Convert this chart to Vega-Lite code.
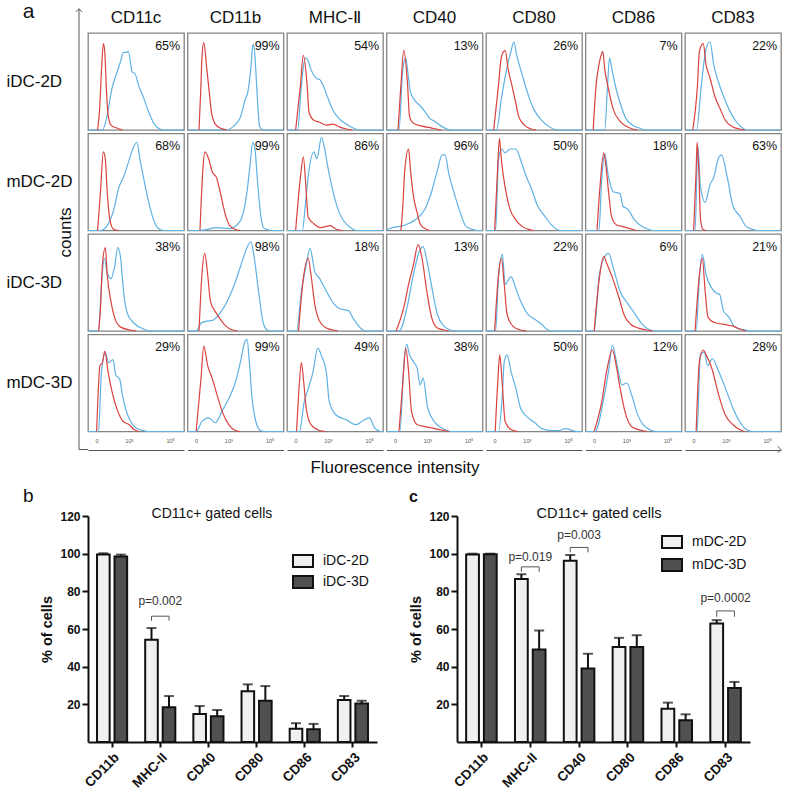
{
"$schema":"https://vega.github.io/schema/vega-lite/v6.json",
"padding":{"left":5,"top":0,"right":0,"bottom":0},
"config":{"font":"Liberation Sans","view":{"stroke":"#858585","strokeWidth":1.3},"axis":{"labelFont":"Liberation Sans","titleFont":"Liberation Sans"},"legend":{"labelFont":"Liberation Sans"},"title":{"font":"Liberation Sans"}},
"datasets":{
"h":[
{"r":1,"c":1,"s":"a","x":0,"y":0},{"r":1,"c":1,"s":"a","x":15,"y":0},{"r":1,"c":1,"s":"a","x":20,"y":15},{"r":1,"c":1,"s":"a","x":25,"y":43},{"r":1,"c":1,"s":"a","x":30,"y":59},{"r":1,"c":1,"s":"a","x":34,"y":71},{"r":1,"c":1,"s":"a","x":37,"y":80},{"r":1,"c":1,"s":"a","x":40,"y":80},{"r":1,"c":1,"s":"a","x":42,"y":81},{"r":1,"c":1,"s":"a","x":46,"y":60},{"r":1,"c":1,"s":"a","x":49,"y":58},{"r":1,"c":1,"s":"a","x":53,"y":45},{"r":1,"c":1,"s":"a","x":58,"y":33},{"r":1,"c":1,"s":"a","x":63,"y":19},{"r":1,"c":1,"s":"a","x":68,"y":8},{"r":1,"c":1,"s":"a","x":73,"y":2},{"r":1,"c":1,"s":"a","x":78,"y":0},{"r":1,"c":1,"s":"a","x":100,"y":0},
{"r":1,"c":1,"s":"i","x":10,"y":0},{"r":1,"c":1,"s":"i","x":12,"y":20},{"r":1,"c":1,"s":"i","x":14,"y":60},{"r":1,"c":1,"s":"i","x":16,"y":89},{"r":1,"c":1,"s":"i","x":17.5,"y":80},{"r":1,"c":1,"s":"i","x":19,"y":45},{"r":1,"c":1,"s":"i","x":21,"y":15},{"r":1,"c":1,"s":"i","x":24,"y":5},{"r":1,"c":1,"s":"i","x":30,"y":2},{"r":1,"c":1,"s":"i","x":36,"y":0},
{"r":1,"c":2,"s":"a","x":0,"y":0},{"r":1,"c":2,"s":"a","x":41,"y":0},{"r":1,"c":2,"s":"a","x":48,"y":4},{"r":1,"c":2,"s":"a","x":55,"y":13},{"r":1,"c":2,"s":"a","x":60,"y":31},{"r":1,"c":2,"s":"a","x":63,"y":40},{"r":1,"c":2,"s":"a","x":66,"y":64},{"r":1,"c":2,"s":"a","x":68,"y":87},{"r":1,"c":2,"s":"a","x":69,"y":88},{"r":1,"c":2,"s":"a","x":71,"y":64},{"r":1,"c":2,"s":"a","x":73,"y":29},{"r":1,"c":2,"s":"a","x":75,"y":4},{"r":1,"c":2,"s":"a","x":77,"y":1},{"r":1,"c":2,"s":"a","x":80,"y":0},{"r":1,"c":2,"s":"a","x":100,"y":0},
{"r":1,"c":2,"s":"i","x":12,"y":0},{"r":1,"c":2,"s":"i","x":14,"y":46},{"r":1,"c":2,"s":"i","x":15,"y":74},{"r":1,"c":2,"s":"i","x":17,"y":90},{"r":1,"c":2,"s":"i","x":20,"y":64},{"r":1,"c":2,"s":"i","x":23,"y":36},{"r":1,"c":2,"s":"i","x":25,"y":18},{"r":1,"c":2,"s":"i","x":29,"y":6},{"r":1,"c":2,"s":"i","x":34,"y":2},{"r":1,"c":2,"s":"i","x":41,"y":0},
{"r":1,"c":3,"s":"a","x":0,"y":0},{"r":1,"c":3,"s":"a","x":11,"y":0},{"r":1,"c":3,"s":"a","x":15,"y":46},{"r":1,"c":3,"s":"a","x":19,"y":74},{"r":1,"c":3,"s":"a","x":21,"y":73},{"r":1,"c":3,"s":"a","x":26,"y":60},{"r":1,"c":3,"s":"a","x":31,"y":53},{"r":1,"c":3,"s":"a","x":34,"y":52},{"r":1,"c":3,"s":"a","x":38,"y":45},{"r":1,"c":3,"s":"a","x":43,"y":32},{"r":1,"c":3,"s":"a","x":48,"y":20},{"r":1,"c":3,"s":"a","x":55,"y":11},{"r":1,"c":3,"s":"a","x":62,"y":6},{"r":1,"c":3,"s":"a","x":69,"y":2},{"r":1,"c":3,"s":"a","x":76,"y":0},{"r":1,"c":3,"s":"a","x":100,"y":0},
{"r":1,"c":3,"s":"i","x":9,"y":0},{"r":1,"c":3,"s":"i","x":14,"y":46},{"r":1,"c":3,"s":"i","x":17,"y":77},{"r":1,"c":3,"s":"i","x":21,"y":46},{"r":1,"c":3,"s":"i","x":23,"y":18},{"r":1,"c":3,"s":"i","x":28,"y":10},{"r":1,"c":3,"s":"i","x":34,"y":8},{"r":1,"c":3,"s":"i","x":41,"y":5},{"r":1,"c":3,"s":"i","x":48,"y":6},{"r":1,"c":3,"s":"i","x":55,"y":3},{"r":1,"c":3,"s":"i","x":62,"y":1},{"r":1,"c":3,"s":"i","x":68,"y":0},
{"r":1,"c":4,"s":"a","x":0,"y":0},{"r":1,"c":4,"s":"a","x":13,"y":0},{"r":1,"c":4,"s":"a","x":17,"y":63},{"r":1,"c":4,"s":"a","x":20,"y":74},{"r":1,"c":4,"s":"a","x":23,"y":53},{"r":1,"c":4,"s":"a","x":25,"y":39},{"r":1,"c":4,"s":"a","x":30,"y":30},{"r":1,"c":4,"s":"a","x":35,"y":25},{"r":1,"c":4,"s":"a","x":40,"y":19},{"r":1,"c":4,"s":"a","x":45,"y":12},{"r":1,"c":4,"s":"a","x":50,"y":9},{"r":1,"c":4,"s":"a","x":57,"y":4},{"r":1,"c":4,"s":"a","x":63,"y":1},{"r":1,"c":4,"s":"a","x":68,"y":0},{"r":1,"c":4,"s":"a","x":100,"y":0},
{"r":1,"c":4,"s":"i","x":12,"y":0},{"r":1,"c":4,"s":"i","x":15,"y":46},{"r":1,"c":4,"s":"i","x":18,"y":82},{"r":1,"c":4,"s":"i","x":22,"y":46},{"r":1,"c":4,"s":"i","x":24,"y":14},{"r":1,"c":4,"s":"i","x":28,"y":7},{"r":1,"c":4,"s":"i","x":37,"y":4},{"r":1,"c":4,"s":"i","x":47,"y":2},{"r":1,"c":4,"s":"i","x":57,"y":0},
{"r":1,"c":5,"s":"a","x":0,"y":0},{"r":1,"c":5,"s":"a","x":11,"y":0},{"r":1,"c":5,"s":"a","x":16,"y":32},{"r":1,"c":5,"s":"a","x":22,"y":65},{"r":1,"c":5,"s":"a","x":26,"y":81},{"r":1,"c":5,"s":"a","x":29,"y":91},{"r":1,"c":5,"s":"a","x":32,"y":77},{"r":1,"c":5,"s":"a","x":38,"y":56},{"r":1,"c":5,"s":"a","x":43,"y":39},{"r":1,"c":5,"s":"a","x":50,"y":21},{"r":1,"c":5,"s":"a","x":58,"y":10},{"r":1,"c":5,"s":"a","x":65,"y":4},{"r":1,"c":5,"s":"a","x":70,"y":1},{"r":1,"c":5,"s":"a","x":74,"y":0},{"r":1,"c":5,"s":"a","x":100,"y":0},
{"r":1,"c":5,"s":"i","x":8,"y":0},{"r":1,"c":5,"s":"i","x":13,"y":46},{"r":1,"c":5,"s":"i","x":16,"y":75},{"r":1,"c":5,"s":"i","x":20,"y":82},{"r":1,"c":5,"s":"i","x":23,"y":63},{"r":1,"c":5,"s":"i","x":27,"y":46},{"r":1,"c":5,"s":"i","x":31,"y":28},{"r":1,"c":5,"s":"i","x":34,"y":14},{"r":1,"c":5,"s":"i","x":40,"y":5},{"r":1,"c":5,"s":"i","x":47,"y":1},{"r":1,"c":5,"s":"i","x":52,"y":0},
{"r":1,"c":6,"s":"a","x":0,"y":0},{"r":1,"c":6,"s":"a","x":20,"y":0},{"r":1,"c":6,"s":"a","x":23,"y":46},{"r":1,"c":6,"s":"a","x":25,"y":74},{"r":1,"c":6,"s":"a","x":28,"y":60},{"r":1,"c":6,"s":"a","x":32,"y":42},{"r":1,"c":6,"s":"a","x":37,"y":25},{"r":1,"c":6,"s":"a","x":42,"y":12},{"r":1,"c":6,"s":"a","x":49,"y":5},{"r":1,"c":6,"s":"a","x":56,"y":2},{"r":1,"c":6,"s":"a","x":62,"y":0},{"r":1,"c":6,"s":"a","x":100,"y":0},
{"r":1,"c":6,"s":"i","x":8,"y":0},{"r":1,"c":6,"s":"i","x":11,"y":46},{"r":1,"c":6,"s":"i","x":14,"y":67},{"r":1,"c":6,"s":"i","x":15,"y":72},{"r":1,"c":6,"s":"i","x":18,"y":81},{"r":1,"c":6,"s":"i","x":20,"y":63},{"r":1,"c":6,"s":"i","x":24,"y":42},{"r":1,"c":6,"s":"i","x":29,"y":21},{"r":1,"c":6,"s":"i","x":36,"y":9},{"r":1,"c":6,"s":"i","x":42,"y":4},{"r":1,"c":6,"s":"i","x":49,"y":1},{"r":1,"c":6,"s":"i","x":54,"y":0},
{"r":1,"c":7,"s":"a","x":0,"y":0},{"r":1,"c":7,"s":"a","x":12,"y":0},{"r":1,"c":7,"s":"a","x":17,"y":46},{"r":1,"c":7,"s":"a","x":22,"y":84},{"r":1,"c":7,"s":"a","x":26,"y":91},{"r":1,"c":7,"s":"a","x":30,"y":67},{"r":1,"c":7,"s":"a","x":35,"y":49},{"r":1,"c":7,"s":"a","x":40,"y":35},{"r":1,"c":7,"s":"a","x":46,"y":21},{"r":1,"c":7,"s":"a","x":53,"y":9},{"r":1,"c":7,"s":"a","x":60,"y":2},{"r":1,"c":7,"s":"a","x":65,"y":0},{"r":1,"c":7,"s":"a","x":100,"y":0},
{"r":1,"c":7,"s":"i","x":8,"y":0},{"r":1,"c":7,"s":"i","x":13,"y":46},{"r":1,"c":7,"s":"i","x":15,"y":81},{"r":1,"c":7,"s":"i","x":19,"y":89},{"r":1,"c":7,"s":"i","x":22,"y":67},{"r":1,"c":7,"s":"i","x":26,"y":54},{"r":1,"c":7,"s":"i","x":31,"y":35},{"r":1,"c":7,"s":"i","x":37,"y":21},{"r":1,"c":7,"s":"i","x":42,"y":10},{"r":1,"c":7,"s":"i","x":50,"y":3},{"r":1,"c":7,"s":"i","x":57,"y":1},{"r":1,"c":7,"s":"i","x":62,"y":0},
{"r":2,"c":1,"s":"a","x":0,"y":0},{"r":2,"c":1,"s":"a","x":13,"y":0},{"r":2,"c":1,"s":"a","x":20,"y":5},{"r":2,"c":1,"s":"a","x":27,"y":22},{"r":2,"c":1,"s":"a","x":32,"y":44},{"r":2,"c":1,"s":"a","x":37,"y":55},{"r":2,"c":1,"s":"a","x":42,"y":70},{"r":2,"c":1,"s":"a","x":47,"y":85},{"r":2,"c":1,"s":"a","x":51,"y":91},{"r":2,"c":1,"s":"a","x":54,"y":74},{"r":2,"c":1,"s":"a","x":60,"y":44},{"r":2,"c":1,"s":"a","x":65,"y":22},{"r":2,"c":1,"s":"a","x":70,"y":7},{"r":2,"c":1,"s":"a","x":75,"y":1},{"r":2,"c":1,"s":"a","x":80,"y":0},{"r":2,"c":1,"s":"a","x":100,"y":0},
{"r":2,"c":1,"s":"i","x":10,"y":0},{"r":2,"c":1,"s":"i","x":13,"y":40},{"r":2,"c":1,"s":"i","x":16,"y":81},{"r":2,"c":1,"s":"i","x":18,"y":74},{"r":2,"c":1,"s":"i","x":20,"y":40},{"r":2,"c":1,"s":"i","x":23,"y":10},{"r":2,"c":1,"s":"i","x":27,"y":1},{"r":2,"c":1,"s":"i","x":32,"y":0},
{"r":2,"c":2,"s":"a","x":0,"y":0},{"r":2,"c":2,"s":"a","x":12,"y":0},{"r":2,"c":2,"s":"a","x":20,"y":1},{"r":2,"c":2,"s":"a","x":30,"y":3},{"r":2,"c":2,"s":"a","x":44,"y":2},{"r":2,"c":2,"s":"a","x":55,"y":10},{"r":2,"c":2,"s":"a","x":62,"y":40},{"r":2,"c":2,"s":"a","x":65,"y":66},{"r":2,"c":2,"s":"a","x":68,"y":91},{"r":2,"c":2,"s":"a","x":70,"y":86},{"r":2,"c":2,"s":"a","x":73,"y":50},{"r":2,"c":2,"s":"a","x":76,"y":18},{"r":2,"c":2,"s":"a","x":79,"y":3},{"r":2,"c":2,"s":"a","x":83,"y":1},{"r":2,"c":2,"s":"a","x":87,"y":0},{"r":2,"c":2,"s":"a","x":100,"y":0},
{"r":2,"c":2,"s":"i","x":13,"y":0},{"r":2,"c":2,"s":"i","x":16,"y":63},{"r":2,"c":2,"s":"i","x":18,"y":81},{"r":2,"c":2,"s":"i","x":22,"y":74},{"r":2,"c":2,"s":"i","x":26,"y":60},{"r":2,"c":2,"s":"i","x":30,"y":55},{"r":2,"c":2,"s":"i","x":34,"y":40},{"r":2,"c":2,"s":"i","x":39,"y":18},{"r":2,"c":2,"s":"i","x":44,"y":5},{"r":2,"c":2,"s":"i","x":50,"y":1},{"r":2,"c":2,"s":"i","x":55,"y":0},
{"r":2,"c":3,"s":"a","x":0,"y":0},{"r":2,"c":3,"s":"a","x":16,"y":0},{"r":2,"c":3,"s":"a","x":19,"y":25},{"r":2,"c":3,"s":"a","x":22,"y":55},{"r":2,"c":3,"s":"a","x":28,"y":81},{"r":2,"c":3,"s":"a","x":31,"y":74},{"r":2,"c":3,"s":"a","x":36,"y":96},{"r":2,"c":3,"s":"a","x":39,"y":85},{"r":2,"c":3,"s":"a","x":43,"y":63},{"r":2,"c":3,"s":"a","x":48,"y":40},{"r":2,"c":3,"s":"a","x":53,"y":22},{"r":2,"c":3,"s":"a","x":59,"y":10},{"r":2,"c":3,"s":"a","x":66,"y":3},{"r":2,"c":3,"s":"a","x":72,"y":0},{"r":2,"c":3,"s":"a","x":100,"y":0},
{"r":2,"c":3,"s":"i","x":9,"y":0},{"r":2,"c":3,"s":"i","x":14,"y":55},{"r":2,"c":3,"s":"i","x":17,"y":76},{"r":2,"c":3,"s":"i","x":20,"y":40},{"r":2,"c":3,"s":"i","x":22,"y":14},{"r":2,"c":3,"s":"i","x":28,"y":7},{"r":2,"c":3,"s":"i","x":35,"y":3},{"r":2,"c":3,"s":"i","x":45,"y":5},{"r":2,"c":3,"s":"i","x":52,"y":1},{"r":2,"c":3,"s":"i","x":58,"y":0},
{"r":2,"c":4,"s":"a","x":0,"y":0},{"r":2,"c":4,"s":"a","x":3,"y":2},{"r":2,"c":4,"s":"a","x":17,"y":5},{"r":2,"c":4,"s":"a","x":30,"y":11},{"r":2,"c":4,"s":"a","x":40,"y":22},{"r":2,"c":4,"s":"a","x":47,"y":40},{"r":2,"c":4,"s":"a","x":53,"y":62},{"r":2,"c":4,"s":"a","x":58,"y":78},{"r":2,"c":4,"s":"a","x":61,"y":78},{"r":2,"c":4,"s":"a","x":65,"y":58},{"r":2,"c":4,"s":"a","x":70,"y":40},{"r":2,"c":4,"s":"a","x":77,"y":18},{"r":2,"c":4,"s":"a","x":83,"y":4},{"r":2,"c":4,"s":"a","x":90,"y":1},{"r":2,"c":4,"s":"a","x":95,"y":0},{"r":2,"c":4,"s":"a","x":100,"y":0},
{"r":2,"c":4,"s":"i","x":15,"y":0},{"r":2,"c":4,"s":"i","x":17,"y":25},{"r":2,"c":4,"s":"i","x":19,"y":62},{"r":2,"c":4,"s":"i","x":23,"y":84},{"r":2,"c":4,"s":"i","x":25,"y":62},{"r":2,"c":4,"s":"i","x":28,"y":36},{"r":2,"c":4,"s":"i","x":32,"y":18},{"r":2,"c":4,"s":"i","x":35,"y":7},{"r":2,"c":4,"s":"i","x":40,"y":2},{"r":2,"c":4,"s":"i","x":45,"y":0},
{"r":2,"c":5,"s":"a","x":0,"y":0},{"r":2,"c":5,"s":"a","x":10,"y":0},{"r":2,"c":5,"s":"a","x":13,"y":73},{"r":2,"c":5,"s":"a","x":16,"y":84},{"r":2,"c":5,"s":"a","x":20,"y":80},{"r":2,"c":5,"s":"a","x":25,"y":84},{"r":2,"c":5,"s":"a","x":31,"y":84},{"r":2,"c":5,"s":"a","x":36,"y":73},{"r":2,"c":5,"s":"a","x":41,"y":58},{"r":2,"c":5,"s":"a","x":47,"y":44},{"r":2,"c":5,"s":"a","x":54,"y":25},{"r":2,"c":5,"s":"a","x":61,"y":15},{"r":2,"c":5,"s":"a","x":68,"y":6},{"r":2,"c":5,"s":"a","x":74,"y":1},{"r":2,"c":5,"s":"a","x":78,"y":0},{"r":2,"c":5,"s":"a","x":100,"y":0},
{"r":2,"c":5,"s":"i","x":9,"y":0},{"r":2,"c":5,"s":"i","x":12,"y":62},{"r":2,"c":5,"s":"i","x":14,"y":95},{"r":2,"c":5,"s":"i","x":16,"y":73},{"r":2,"c":5,"s":"i","x":20,"y":44},{"r":2,"c":5,"s":"i","x":25,"y":22},{"r":2,"c":5,"s":"i","x":31,"y":11},{"r":2,"c":5,"s":"i","x":38,"y":4},{"r":2,"c":5,"s":"i","x":45,"y":1},{"r":2,"c":5,"s":"i","x":50,"y":0},
{"r":2,"c":6,"s":"a","x":0,"y":0},{"r":2,"c":6,"s":"a","x":14,"y":0},{"r":2,"c":6,"s":"a","x":17,"y":55},{"r":2,"c":6,"s":"a","x":20,"y":79},{"r":2,"c":6,"s":"a","x":24,"y":55},{"r":2,"c":6,"s":"a","x":29,"y":40},{"r":2,"c":6,"s":"a","x":36,"y":38},{"r":2,"c":6,"s":"a","x":39,"y":25},{"r":2,"c":6,"s":"a","x":44,"y":22},{"r":2,"c":6,"s":"a","x":51,"y":11},{"r":2,"c":6,"s":"a","x":59,"y":4},{"r":2,"c":6,"s":"a","x":66,"y":1},{"r":2,"c":6,"s":"a","x":70,"y":0},{"r":2,"c":6,"s":"a","x":100,"y":0},
{"r":2,"c":6,"s":"i","x":12,"y":0},{"r":2,"c":6,"s":"i","x":15,"y":44},{"r":2,"c":6,"s":"i","x":19,"y":80},{"r":2,"c":6,"s":"i","x":21,"y":69},{"r":2,"c":6,"s":"i","x":24,"y":40},{"r":2,"c":6,"s":"i","x":27,"y":15},{"r":2,"c":6,"s":"i","x":32,"y":6},{"r":2,"c":6,"s":"i","x":39,"y":4},{"r":2,"c":6,"s":"i","x":46,"y":2},{"r":2,"c":6,"s":"i","x":53,"y":0},
{"r":2,"c":7,"s":"a","x":0,"y":0},{"r":2,"c":7,"s":"a","x":10.5,"y":0},{"r":2,"c":7,"s":"a","x":13.4,"y":87},{"r":2,"c":7,"s":"a","x":16,"y":47},{"r":2,"c":7,"s":"a","x":21,"y":29},{"r":2,"c":7,"s":"a","x":26,"y":47},{"r":2,"c":7,"s":"a","x":30,"y":55},{"r":2,"c":7,"s":"a","x":35,"y":75},{"r":2,"c":7,"s":"a","x":38,"y":78},{"r":2,"c":7,"s":"a","x":44,"y":55},{"r":2,"c":7,"s":"a","x":50,"y":25},{"r":2,"c":7,"s":"a","x":57,"y":15},{"r":2,"c":7,"s":"a","x":64,"y":4},{"r":2,"c":7,"s":"a","x":71,"y":1},{"r":2,"c":7,"s":"a","x":75,"y":0},{"r":2,"c":7,"s":"a","x":100,"y":0},
{"r":2,"c":7,"s":"i","x":9,"y":0},{"r":2,"c":7,"s":"i","x":11.6,"y":62},{"r":2,"c":7,"s":"i","x":12.6,"y":91},{"r":2,"c":7,"s":"i","x":14.4,"y":62},{"r":2,"c":7,"s":"i","x":16.2,"y":11},{"r":2,"c":7,"s":"i","x":18.8,"y":1},{"r":2,"c":7,"s":"i","x":22,"y":0},
{"r":3,"c":1,"s":"a","x":0,"y":0},{"r":3,"c":1,"s":"a","x":11,"y":0},{"r":3,"c":1,"s":"a","x":14,"y":48},{"r":3,"c":1,"s":"a","x":17,"y":75},{"r":3,"c":1,"s":"a","x":20,"y":60},{"r":3,"c":1,"s":"a","x":24,"y":54},{"r":3,"c":1,"s":"a","x":28,"y":68},{"r":3,"c":1,"s":"a","x":31,"y":86},{"r":3,"c":1,"s":"a","x":34,"y":75},{"r":3,"c":1,"s":"a","x":37,"y":41},{"r":3,"c":1,"s":"a","x":41,"y":18},{"r":3,"c":1,"s":"a","x":48,"y":8},{"r":3,"c":1,"s":"a","x":58,"y":2},{"r":3,"c":1,"s":"a","x":65,"y":0},{"r":3,"c":1,"s":"a","x":100,"y":0},
{"r":3,"c":1,"s":"i","x":11,"y":0},{"r":3,"c":1,"s":"i","x":13,"y":23},{"r":3,"c":1,"s":"i","x":15,"y":68},{"r":3,"c":1,"s":"i","x":18,"y":86},{"r":3,"c":1,"s":"i","x":20,"y":58},{"r":3,"c":1,"s":"i","x":24,"y":30},{"r":3,"c":1,"s":"i","x":28,"y":13},{"r":3,"c":1,"s":"i","x":34,"y":4},{"r":3,"c":1,"s":"i","x":44,"y":1},{"r":3,"c":1,"s":"i","x":50,"y":0},
{"r":3,"c":2,"s":"a","x":0,"y":0},{"r":3,"c":2,"s":"a","x":9,"y":0},{"r":3,"c":2,"s":"a","x":14,"y":8},{"r":3,"c":2,"s":"a","x":19,"y":10},{"r":3,"c":2,"s":"a","x":26,"y":11},{"r":3,"c":2,"s":"a","x":35,"y":20},{"r":3,"c":2,"s":"a","x":43,"y":34},{"r":3,"c":2,"s":"a","x":50,"y":51},{"r":3,"c":2,"s":"a","x":57,"y":72},{"r":3,"c":2,"s":"a","x":62,"y":86},{"r":3,"c":2,"s":"a","x":66,"y":92},{"r":3,"c":2,"s":"a","x":69,"y":79},{"r":3,"c":2,"s":"a","x":74,"y":41},{"r":3,"c":2,"s":"a","x":79,"y":8},{"r":3,"c":2,"s":"a","x":83,"y":1},{"r":3,"c":2,"s":"a","x":86,"y":0},{"r":3,"c":2,"s":"a","x":100,"y":0},
{"r":3,"c":2,"s":"i","x":12,"y":0},{"r":3,"c":2,"s":"i","x":15,"y":58},{"r":3,"c":2,"s":"i","x":18,"y":80},{"r":3,"c":2,"s":"i","x":21,"y":58},{"r":3,"c":2,"s":"i","x":24,"y":30},{"r":3,"c":2,"s":"i","x":29,"y":20},{"r":3,"c":2,"s":"i","x":35,"y":11},{"r":3,"c":2,"s":"i","x":40,"y":5},{"r":3,"c":2,"s":"i","x":47,"y":1},{"r":3,"c":2,"s":"i","x":52,"y":0},
{"r":3,"c":3,"s":"a","x":0,"y":0},{"r":3,"c":3,"s":"a","x":10,"y":0},{"r":3,"c":3,"s":"a","x":15,"y":41},{"r":3,"c":3,"s":"a","x":20,"y":68},{"r":3,"c":3,"s":"a","x":24,"y":85},{"r":3,"c":3,"s":"a","x":29,"y":61},{"r":3,"c":3,"s":"a","x":34,"y":54},{"r":3,"c":3,"s":"a","x":41,"y":41},{"r":3,"c":3,"s":"a","x":48,"y":29},{"r":3,"c":3,"s":"a","x":55,"y":23},{"r":3,"c":3,"s":"a","x":64,"y":21},{"r":3,"c":3,"s":"a","x":69,"y":13},{"r":3,"c":3,"s":"a","x":74,"y":6},{"r":3,"c":3,"s":"a","x":79,"y":1},{"r":3,"c":3,"s":"a","x":83,"y":0},{"r":3,"c":3,"s":"a","x":100,"y":0},
{"r":3,"c":3,"s":"i","x":12,"y":0},{"r":3,"c":3,"s":"i","x":17,"y":54},{"r":3,"c":3,"s":"i","x":22,"y":75},{"r":3,"c":3,"s":"i","x":25,"y":58},{"r":3,"c":3,"s":"i","x":29,"y":27},{"r":3,"c":3,"s":"i","x":34,"y":10},{"r":3,"c":3,"s":"i","x":41,"y":3},{"r":3,"c":3,"s":"i","x":48,"y":1},{"r":3,"c":3,"s":"i","x":53,"y":0},
{"r":3,"c":4,"s":"a","x":0,"y":0},{"r":3,"c":4,"s":"a","x":13,"y":0},{"r":3,"c":4,"s":"a","x":22,"y":27},{"r":3,"c":4,"s":"a","x":28,"y":58},{"r":3,"c":4,"s":"a","x":35,"y":84},{"r":3,"c":4,"s":"a","x":38,"y":87},{"r":3,"c":4,"s":"a","x":43,"y":68},{"r":3,"c":4,"s":"a","x":48,"y":41},{"r":3,"c":4,"s":"a","x":53,"y":17},{"r":3,"c":4,"s":"a","x":60,"y":5},{"r":3,"c":4,"s":"a","x":67,"y":1},{"r":3,"c":4,"s":"a","x":72,"y":0},{"r":3,"c":4,"s":"a","x":100,"y":0},
{"r":3,"c":4,"s":"i","x":10,"y":0},{"r":3,"c":4,"s":"i","x":18,"y":24},{"r":3,"c":4,"s":"i","x":23,"y":48},{"r":3,"c":4,"s":"i","x":28,"y":68},{"r":3,"c":4,"s":"i","x":33,"y":89},{"r":3,"c":4,"s":"i","x":37,"y":75},{"r":3,"c":4,"s":"i","x":42,"y":41},{"r":3,"c":4,"s":"i","x":47,"y":14},{"r":3,"c":4,"s":"i","x":53,"y":3},{"r":3,"c":4,"s":"i","x":60,"y":1},{"r":3,"c":4,"s":"i","x":65,"y":0},
{"r":3,"c":5,"s":"a","x":0,"y":0},{"r":3,"c":5,"s":"a","x":10,"y":0},{"r":3,"c":5,"s":"a","x":13,"y":55},{"r":3,"c":5,"s":"a","x":17,"y":79},{"r":3,"c":5,"s":"a","x":20,"y":48},{"r":3,"c":5,"s":"a","x":26,"y":56},{"r":3,"c":5,"s":"a","x":31,"y":44},{"r":3,"c":5,"s":"a","x":36,"y":31},{"r":3,"c":5,"s":"a","x":44,"y":17},{"r":3,"c":5,"s":"a","x":51,"y":12},{"r":3,"c":5,"s":"a","x":58,"y":7},{"r":3,"c":5,"s":"a","x":63,"y":2},{"r":3,"c":5,"s":"a","x":69,"y":0},{"r":3,"c":5,"s":"a","x":100,"y":0},
{"r":3,"c":5,"s":"i","x":9,"y":0},{"r":3,"c":5,"s":"i","x":13,"y":58},{"r":3,"c":5,"s":"i","x":16,"y":75},{"r":3,"c":5,"s":"i","x":19,"y":48},{"r":3,"c":5,"s":"i","x":22,"y":17},{"r":3,"c":5,"s":"i","x":28,"y":5},{"r":3,"c":5,"s":"i","x":36,"y":1},{"r":3,"c":5,"s":"i","x":42,"y":0},
{"r":3,"c":6,"s":"a","x":0,"y":0},{"r":3,"c":6,"s":"a","x":9,"y":0},{"r":3,"c":6,"s":"a","x":14,"y":55},{"r":3,"c":6,"s":"a","x":19,"y":75},{"r":3,"c":6,"s":"a","x":24,"y":80},{"r":3,"c":6,"s":"a","x":29,"y":65},{"r":3,"c":6,"s":"a","x":36,"y":41},{"r":3,"c":6,"s":"a","x":45,"y":27},{"r":3,"c":6,"s":"a","x":52,"y":17},{"r":3,"c":6,"s":"a","x":59,"y":7},{"r":3,"c":6,"s":"a","x":67,"y":1},{"r":3,"c":6,"s":"a","x":72,"y":0},{"r":3,"c":6,"s":"a","x":100,"y":0},
{"r":3,"c":6,"s":"i","x":9,"y":0},{"r":3,"c":6,"s":"i","x":14,"y":51},{"r":3,"c":6,"s":"i","x":19,"y":77},{"r":3,"c":6,"s":"i","x":22,"y":70},{"r":3,"c":6,"s":"i","x":28,"y":55},{"r":3,"c":6,"s":"i","x":35,"y":34},{"r":3,"c":6,"s":"i","x":40,"y":17},{"r":3,"c":6,"s":"i","x":47,"y":7},{"r":3,"c":6,"s":"i","x":55,"y":3},{"r":3,"c":6,"s":"i","x":64,"y":1},{"r":3,"c":6,"s":"i","x":70,"y":0},
{"r":3,"c":7,"s":"a","x":0,"y":0},{"r":3,"c":7,"s":"a","x":11.6,"y":0},{"r":3,"c":7,"s":"a","x":15,"y":55},{"r":3,"c":7,"s":"a","x":18,"y":79},{"r":3,"c":7,"s":"a","x":22,"y":58},{"r":3,"c":7,"s":"a","x":28,"y":44},{"r":3,"c":7,"s":"a","x":33,"y":39},{"r":3,"c":7,"s":"a","x":36,"y":38},{"r":3,"c":7,"s":"a","x":40,"y":21},{"r":3,"c":7,"s":"a","x":46,"y":14},{"r":3,"c":7,"s":"a","x":51,"y":5},{"r":3,"c":7,"s":"a","x":57,"y":2},{"r":3,"c":7,"s":"a","x":64,"y":1},{"r":3,"c":7,"s":"a","x":68,"y":0},{"r":3,"c":7,"s":"a","x":100,"y":0},
{"r":3,"c":7,"s":"i","x":10.5,"y":0},{"r":3,"c":7,"s":"i","x":15,"y":58},{"r":3,"c":7,"s":"i","x":18,"y":75},{"r":3,"c":7,"s":"i","x":21,"y":41},{"r":3,"c":7,"s":"i","x":24,"y":14},{"r":3,"c":7,"s":"i","x":30,"y":9},{"r":3,"c":7,"s":"i","x":39,"y":7},{"r":3,"c":7,"s":"i","x":50,"y":5},{"r":3,"c":7,"s":"i","x":57,"y":2},{"r":3,"c":7,"s":"i","x":63,"y":0},
{"r":4,"c":1,"s":"a","x":0,"y":0},{"r":4,"c":1,"s":"a","x":11,"y":0},{"r":4,"c":1,"s":"a","x":14,"y":61},{"r":4,"c":1,"s":"a","x":18,"y":81},{"r":4,"c":1,"s":"a","x":21.5,"y":71},{"r":4,"c":1,"s":"a","x":26,"y":74},{"r":4,"c":1,"s":"a","x":29,"y":58},{"r":4,"c":1,"s":"a","x":33,"y":54},{"r":4,"c":1,"s":"a","x":36,"y":37},{"r":4,"c":1,"s":"a","x":39,"y":24},{"r":4,"c":1,"s":"a","x":44,"y":11},{"r":4,"c":1,"s":"a","x":51,"y":3},{"r":4,"c":1,"s":"a","x":58,"y":1},{"r":4,"c":1,"s":"a","x":62,"y":0},{"r":4,"c":1,"s":"a","x":100,"y":0},
{"r":4,"c":1,"s":"i","x":9,"y":0},{"r":4,"c":1,"s":"i","x":12.5,"y":68},{"r":4,"c":1,"s":"i","x":15,"y":71},{"r":4,"c":1,"s":"i","x":17.5,"y":83},{"r":4,"c":1,"s":"i","x":21,"y":61},{"r":4,"c":1,"s":"i","x":26,"y":37},{"r":4,"c":1,"s":"i","x":31,"y":21},{"r":4,"c":1,"s":"i","x":36,"y":11},{"r":4,"c":1,"s":"i","x":43,"y":7},{"r":4,"c":1,"s":"i","x":48,"y":2},{"r":4,"c":1,"s":"i","x":53,"y":0},
{"r":4,"c":2,"s":"a","x":0,"y":0},{"r":4,"c":2,"s":"a","x":9,"y":0},{"r":4,"c":2,"s":"a","x":15.5,"y":11},{"r":4,"c":2,"s":"a","x":22,"y":14},{"r":4,"c":2,"s":"a","x":29,"y":9},{"r":4,"c":2,"s":"a","x":36,"y":21},{"r":4,"c":2,"s":"a","x":43,"y":34},{"r":4,"c":2,"s":"a","x":50,"y":51},{"r":4,"c":2,"s":"a","x":55,"y":71},{"r":4,"c":2,"s":"a","x":60,"y":93},{"r":4,"c":2,"s":"a","x":62,"y":95},{"r":4,"c":2,"s":"a","x":64.5,"y":71},{"r":4,"c":2,"s":"a","x":67,"y":37},{"r":4,"c":2,"s":"a","x":71,"y":11},{"r":4,"c":2,"s":"a","x":76,"y":1},{"r":4,"c":2,"s":"a","x":80,"y":0},{"r":4,"c":2,"s":"a","x":100,"y":0},
{"r":4,"c":2,"s":"i","x":9,"y":0},{"r":4,"c":2,"s":"i","x":14,"y":54},{"r":4,"c":2,"s":"i","x":17,"y":88},{"r":4,"c":2,"s":"i","x":21,"y":68},{"r":4,"c":2,"s":"i","x":26,"y":54},{"r":4,"c":2,"s":"i","x":31,"y":37},{"r":4,"c":2,"s":"i","x":36,"y":21},{"r":4,"c":2,"s":"i","x":43,"y":7},{"r":4,"c":2,"s":"i","x":50,"y":1},{"r":4,"c":2,"s":"i","x":55,"y":0},
{"r":4,"c":3,"s":"a","x":0,"y":0},{"r":4,"c":3,"s":"a","x":13,"y":0},{"r":4,"c":3,"s":"a","x":18,"y":31},{"r":4,"c":3,"s":"a","x":22,"y":44},{"r":4,"c":3,"s":"a","x":27,"y":61},{"r":4,"c":3,"s":"a","x":32,"y":86},{"r":4,"c":3,"s":"a","x":36,"y":78},{"r":4,"c":3,"s":"a","x":41,"y":61},{"r":4,"c":3,"s":"a","x":44,"y":31},{"r":4,"c":3,"s":"a","x":51,"y":17},{"r":4,"c":3,"s":"a","x":62,"y":12},{"r":4,"c":3,"s":"a","x":72,"y":7},{"r":4,"c":3,"s":"a","x":79,"y":11},{"r":4,"c":3,"s":"a","x":86,"y":14},{"r":4,"c":3,"s":"a","x":91,"y":4},{"r":4,"c":3,"s":"a","x":95,"y":1},{"r":4,"c":3,"s":"a","x":98,"y":0},{"r":4,"c":3,"s":"a","x":100,"y":0},
{"r":4,"c":3,"s":"i","x":10,"y":0},{"r":4,"c":3,"s":"i","x":12.5,"y":44},{"r":4,"c":3,"s":"i","x":15,"y":71},{"r":4,"c":3,"s":"i","x":17.4,"y":51},{"r":4,"c":3,"s":"i","x":20,"y":24},{"r":4,"c":3,"s":"i","x":25,"y":7},{"r":4,"c":3,"s":"i","x":34,"y":1},{"r":4,"c":3,"s":"i","x":40,"y":0},
{"r":4,"c":4,"s":"a","x":0,"y":0},{"r":4,"c":4,"s":"a","x":14,"y":0},{"r":4,"c":4,"s":"a","x":18,"y":68},{"r":4,"c":4,"s":"a","x":21,"y":90},{"r":4,"c":4,"s":"a","x":24,"y":79},{"r":4,"c":4,"s":"a","x":28,"y":72},{"r":4,"c":4,"s":"a","x":32,"y":65},{"r":4,"c":4,"s":"a","x":35,"y":48},{"r":4,"c":4,"s":"a","x":38,"y":55},{"r":4,"c":4,"s":"a","x":43,"y":24},{"r":4,"c":4,"s":"a","x":50,"y":10},{"r":4,"c":4,"s":"a","x":57,"y":4},{"r":4,"c":4,"s":"a","x":63,"y":1},{"r":4,"c":4,"s":"a","x":68,"y":0},{"r":4,"c":4,"s":"a","x":100,"y":0},
{"r":4,"c":4,"s":"i","x":13,"y":0},{"r":4,"c":4,"s":"i","x":17,"y":51},{"r":4,"c":4,"s":"i","x":20,"y":86},{"r":4,"c":4,"s":"i","x":23,"y":62},{"r":4,"c":4,"s":"i","x":26,"y":21},{"r":4,"c":4,"s":"i","x":32,"y":7},{"r":4,"c":4,"s":"i","x":40,"y":5},{"r":4,"c":4,"s":"i","x":50,"y":3},{"r":4,"c":4,"s":"i","x":60,"y":1},{"r":4,"c":4,"s":"i","x":65,"y":0},
{"r":4,"c":5,"s":"a","x":0,"y":0},{"r":4,"c":5,"s":"a","x":13,"y":0},{"r":4,"c":5,"s":"a","x":17,"y":38},{"r":4,"c":5,"s":"a","x":19,"y":72},{"r":4,"c":5,"s":"a","x":22,"y":79},{"r":4,"c":5,"s":"a","x":26,"y":62},{"r":4,"c":5,"s":"a","x":31,"y":45},{"r":4,"c":5,"s":"a","x":36,"y":24},{"r":4,"c":5,"s":"a","x":44,"y":14},{"r":4,"c":5,"s":"a","x":51,"y":9},{"r":4,"c":5,"s":"a","x":58,"y":3},{"r":4,"c":5,"s":"a","x":69,"y":1},{"r":4,"c":5,"s":"a","x":76,"y":1},{"r":4,"c":5,"s":"a","x":83,"y":3},{"r":4,"c":5,"s":"a","x":90,"y":1},{"r":4,"c":5,"s":"a","x":95,"y":0},{"r":4,"c":5,"s":"a","x":100,"y":0},
{"r":4,"c":5,"s":"i","x":9.6,"y":0},{"r":4,"c":5,"s":"i","x":12.5,"y":55},{"r":4,"c":5,"s":"i","x":14.3,"y":79},{"r":4,"c":5,"s":"i","x":16.8,"y":51},{"r":4,"c":5,"s":"i","x":20,"y":10},{"r":4,"c":5,"s":"i","x":26,"y":2},{"r":4,"c":5,"s":"i","x":33,"y":0},
{"r":4,"c":6,"s":"a","x":0,"y":0},{"r":4,"c":6,"s":"a","x":10,"y":0},{"r":4,"c":6,"s":"a","x":19,"y":34},{"r":4,"c":6,"s":"a","x":24,"y":62},{"r":4,"c":6,"s":"a","x":28,"y":89},{"r":4,"c":6,"s":"a","x":33,"y":68},{"r":4,"c":6,"s":"a","x":38,"y":48},{"r":4,"c":6,"s":"a","x":43,"y":50},{"r":4,"c":6,"s":"a","x":48,"y":38},{"r":4,"c":6,"s":"a","x":53,"y":21},{"r":4,"c":6,"s":"a","x":60,"y":7},{"r":4,"c":6,"s":"a","x":69,"y":1},{"r":4,"c":6,"s":"a","x":74,"y":0},{"r":4,"c":6,"s":"a","x":100,"y":0},
{"r":4,"c":6,"s":"i","x":9,"y":0},{"r":4,"c":6,"s":"i","x":17,"y":31},{"r":4,"c":6,"s":"i","x":22,"y":62},{"r":4,"c":6,"s":"i","x":28,"y":84},{"r":4,"c":6,"s":"i","x":32,"y":68},{"r":4,"c":6,"s":"i","x":36,"y":45},{"r":4,"c":6,"s":"i","x":41,"y":21},{"r":4,"c":6,"s":"i","x":48,"y":5},{"r":4,"c":6,"s":"i","x":59,"y":1},{"r":4,"c":6,"s":"i","x":64,"y":0},
{"r":4,"c":7,"s":"a","x":0,"y":0},{"r":4,"c":7,"s":"a","x":12.6,"y":0},{"r":4,"c":7,"s":"a","x":16,"y":79},{"r":4,"c":7,"s":"a","x":20,"y":82},{"r":4,"c":7,"s":"a","x":23.5,"y":68},{"r":4,"c":7,"s":"a","x":28.5,"y":75},{"r":4,"c":7,"s":"a","x":35,"y":62},{"r":4,"c":7,"s":"a","x":42,"y":45},{"r":4,"c":7,"s":"a","x":50,"y":24},{"r":4,"c":7,"s":"a","x":57,"y":10},{"r":4,"c":7,"s":"a","x":64,"y":2},{"r":4,"c":7,"s":"a","x":69,"y":0},{"r":4,"c":7,"s":"a","x":100,"y":0},
{"r":4,"c":7,"s":"i","x":11.6,"y":0},{"r":4,"c":7,"s":"i","x":15,"y":72},{"r":4,"c":7,"s":"i","x":19,"y":84},{"r":4,"c":7,"s":"i","x":22,"y":79},{"r":4,"c":7,"s":"i","x":28,"y":65},{"r":4,"c":7,"s":"i","x":35,"y":38},{"r":4,"c":7,"s":"i","x":42,"y":17},{"r":4,"c":7,"s":"i","x":50,"y":7},{"r":4,"c":7,"s":"i","x":57,"y":2},{"r":4,"c":7,"s":"i","x":62,"y":0},
{"r":1,"c":1,"s":"t","t":"65%"},{"r":1,"c":2,"s":"t","t":"99%"},{"r":1,"c":3,"s":"t","t":"54%"},{"r":1,"c":4,"s":"t","t":"13%"},{"r":1,"c":5,"s":"t","t":"26%"},{"r":1,"c":6,"s":"t","t":"7%"},{"r":1,"c":7,"s":"t","t":"22%"},
{"r":2,"c":1,"s":"t","t":"68%"},{"r":2,"c":2,"s":"t","t":"99%"},{"r":2,"c":3,"s":"t","t":"86%"},{"r":2,"c":4,"s":"t","t":"96%"},{"r":2,"c":5,"s":"t","t":"50%"},{"r":2,"c":6,"s":"t","t":"18%"},{"r":2,"c":7,"s":"t","t":"63%"},
{"r":3,"c":1,"s":"t","t":"38%"},{"r":3,"c":2,"s":"t","t":"98%"},{"r":3,"c":3,"s":"t","t":"18%"},{"r":3,"c":4,"s":"t","t":"13%"},{"r":3,"c":5,"s":"t","t":"22%"},{"r":3,"c":6,"s":"t","t":"6%"},{"r":3,"c":7,"s":"t","t":"21%"},
{"r":4,"c":1,"s":"t","t":"29%"},{"r":4,"c":2,"s":"t","t":"99%"},{"r":4,"c":3,"s":"t","t":"49%"},{"r":4,"c":4,"s":"t","t":"38%"},{"r":4,"c":5,"s":"t","t":"50%"},{"r":4,"c":6,"s":"t","t":"12%"},{"r":4,"c":7,"s":"t","t":"28%"},
{"r":1,"c":1,"s":"h","t":"CD11c"},{"r":1,"c":2,"s":"h","t":"CD11b"},{"r":1,"c":3,"s":"h","t":"MHC-Ⅱ"},{"r":1,"c":4,"s":"h","t":"CD40"},{"r":1,"c":5,"s":"h","t":"CD80"},{"r":1,"c":6,"s":"h","t":"CD86"},{"r":1,"c":7,"s":"h","t":"CD83"},
{"r":1,"c":1,"s":"l","t":"iDC-2D"},{"r":2,"c":1,"s":"l","t":"mDC-2D"},{"r":3,"c":1,"s":"l","t":"iDC-3D"},{"r":4,"c":1,"s":"l","t":"mDC-3D"},
{"r":2,"c":1,"s":"y","t":"counts"},
{"r":1,"c":1,"s":"p","t":"a"},
{"r":4,"c":7,"s":"q","t":""}
],
"bb":[
{"m":"CD11b","g":"iDC-2D","v":99.5,"e":100.2},{"m":"CD11b","g":"iDC-3D","v":98.5,"e":99.5},
{"m":"MHC-II","g":"iDC-2D","v":54.3,"e":60.5},{"m":"MHC-II","g":"iDC-3D","v":18.4,"e":24.4},
{"m":"CD40","g":"iDC-2D","v":14.9,"e":19.1},{"m":"CD40","g":"iDC-3D","v":13.7,"e":17},
{"m":"CD80","g":"iDC-2D","v":26.9,"e":30.6},{"m":"CD80","g":"iDC-3D","v":21.9,"e":29.7},
{"m":"CD86","g":"iDC-2D","v":7.1,"e":10},{"m":"CD86","g":"iDC-3D","v":6.8,"e":9.6},
{"m":"CD83","g":"iDC-2D","v":22.3,"e":24.4},{"m":"CD83","g":"iDC-3D","v":20.5,"e":21.9}
],
"cc":[
{"m":"CD11b","g":"mDC-2D","v":99.6,"e":100},{"m":"CD11b","g":"mDC-3D","v":99.7,"e":100},
{"m":"MHC-II","g":"mDC-2D","v":86.5,"e":89.1},{"m":"MHC-II","g":"mDC-3D","v":49.1,"e":59.2},
{"m":"CD40","g":"mDC-2D","v":96.2,"e":99.3},{"m":"CD40","g":"mDC-3D","v":39,"e":46.9},
{"m":"CD80","g":"mDC-2D","v":50.5,"e":55.3},{"m":"CD80","g":"mDC-3D","v":50.5,"e":56.7},
{"m":"CD86","g":"mDC-2D","v":17.7,"e":20.9},{"m":"CD86","g":"mDC-3D","v":11.5,"e":14.7},
{"m":"CD83","g":"mDC-2D","v":62.9,"e":64.7},{"m":"CD83","g":"mDC-3D","v":28.7,"e":31.9}
]
},
"spacing":10,
"vconcat":[
{
"data":{"name":"h"},
"facet":{
"row":{"field":"r","type":"ordinal","title":null,"header":{"labels":false}},
"column":{"field":"c","type":"ordinal","title":"Fluorescence intensity","header":{"labels":false,"titleOrient":"bottom","titleFontSize":17,"titleFontWeight":"normal","titleColor":"#111","titleFont":"Liberation Sans","titlePadding":0}}
},
"spacing":{"row":3.5,"column":3.5},
"bounds":"flush",
"spec":{
"width":96,"height":97,
"layer":[
{"transform":[{"filter":"datum.s==='a'"}],"mark":{"type":"line","interpolate":"monotone","strokeWidth":1.2,"color":"#5fb2e3"},
"encoding":{
"x":{"field":"x","type":"quantitative","scale":{"domain":[0,100],"nice":false,"zero":false},"axis":{"values":[9,20,42.5,64,85.5],"labelExpr":"datum.value==9?'0':datum.value==20?'10²':datum.value==42.5?'10³':datum.value==64?'10⁴':'10⁵'","title":null,"grid":false,"ticks":false,"tickSize":0,"domain":true,"domainColor":"#555","domainWidth":1,"offset":18,"labelFontSize":5.5,"labelColor":"#555","labelPadding":-12,"labelBaseline":"top","labelFlush":false,"labelOverlap":false,"labelBound":false}},
"y":{"field":"y","type":"quantitative","scale":{"domain":[0,100],"nice":false,"zero":false},"axis":null}}},
{"transform":[{"filter":"datum.s==='i'"}],"mark":{"type":"line","interpolate":"monotone","strokeWidth":1.2,"color":"#d9423f"},
"encoding":{"x":{"field":"x","type":"quantitative"},"y":{"field":"y","type":"quantitative","axis":null}}},
{"transform":[{"filter":"datum.s==='t'"}],"mark":{"type":"text","align":"right","baseline":"top","fontSize":12.5,"color":"#111"},
"encoding":{"x":{"datum":96,"type":"quantitative"},"y":{"datum":93,"type":"quantitative","axis":null},"text":{"field":"t"}}},
{"transform":[{"filter":"datum.s==='h'"}],"mark":{"type":"text","align":"center","baseline":"alphabetic","fontSize":17,"color":"#111"},
"encoding":{"x":{"datum":50,"type":"quantitative"},"y":{"datum":110.5,"type":"quantitative","axis":null},"text":{"field":"t"}}},
{"transform":[{"filter":"datum.s==='l'"}],"mark":{"type":"text","align":"left","baseline":"middle","fontSize":17,"color":"#111"},
"encoding":{"x":{"datum":-85,"type":"quantitative"},"y":{"datum":50,"type":"quantitative","axis":null},"text":{"field":"t"}}},
{"transform":[{"filter":"datum.s==='y'"}],"mark":{"type":"text","align":"center","baseline":"alphabetic","angle":270,"fontSize":17,"color":"#111"},
"encoding":{"x":{"datum":-17.5,"type":"quantitative"},"y":{"datum":-2,"type":"quantitative","axis":null},"text":{"field":"t"}}},
{"transform":[{"filter":"datum.s==='p'"}],"mark":{"type":"text","align":"left","baseline":"alphabetic","fontSize":21,"color":"#111"},
"encoding":{"x":{"datum":-68,"type":"quantitative"},"y":{"datum":115,"type":"quantitative","axis":null},"text":{"field":"t"}}},
{"transform":[{"filter":"datum.s==='l'"}],"mark":{"type":"rule","color":"#555","strokeWidth":1},
"encoding":{"x":{"datum":-9.4,"type":"quantitative"},"y":{"datum":-1.9,"type":"quantitative","axis":null},"y2":{"datum":101.9}}},
{"transform":[{"filter":"datum.s==='p'"}],"mark":{"type":"rule","color":"#555","strokeWidth":1},
"encoding":{"x":{"datum":-9.4,"type":"quantitative"},"y":{"datum":101.9,"type":"quantitative","axis":null},"y2":{"datum":125}}},
{"transform":[{"filter":"datum.s==='p'"}],"mark":{"type":"point","shape":"M-1,1L0,0L1,1","size":40,"filled":false,"stroke":"#555","strokeWidth":1,"opacity":1},
"encoding":{"x":{"datum":-9.4,"type":"quantitative"},"y":{"datum":125,"type":"quantitative","axis":null}}},
{"transform":[{"filter":"datum.s==='l'&&datum.r===4"}],"mark":{"type":"rule","color":"#555","strokeWidth":1},
"encoding":{"x":{"datum":-9.4,"type":"quantitative"},"y":{"datum":-18.6,"type":"quantitative","axis":null},"y2":{"datum":-1.9}}},
{"transform":[{"filter":"datum.s==='l'&&datum.r===4"}],"mark":{"type":"rule","color":"#555","strokeWidth":1},
"encoding":{"x":{"datum":-9.4,"type":"quantitative"},"x2":{"datum":0},"y":{"datum":-18.6,"type":"quantitative","axis":null}}},
{"transform":[{"filter":"datum.s==='q'"}],"mark":{"type":"point","shape":"M-1,-1L0,0L-1,1","size":40,"filled":false,"stroke":"#555","strokeWidth":1,"opacity":1},
"encoding":{"x":{"datum":100,"type":"quantitative"},"y":{"datum":-18.6,"type":"quantitative","axis":null}}}
]
}
},
{
"hconcat":[
{
"width":289,"height":226,"view":{"stroke":null},
"title":{"text":"b","anchor":"start","frame":"bounds","fontSize":19,"fontWeight":"normal","color":"#111","dx":-17,"offset":1},
"layer":[
{"data":{"name":"bb"},"mark":{"type":"bar","stroke":"#111","strokeWidth":2},
"encoding":{
"x":{"field":"m","type":"nominal","sort":["CD11b","MHC-II","CD40","CD80","CD86","CD83"],"scale":{"paddingInner":0.2727,"paddingOuter":0.1364},"axis":{"title":null,"labelAngle":-45,"labelFontSize":13.5,"labelFontWeight":"bold","labelColor":"#111","domainColor":"#111","domainWidth":2,"tickColor":"#111","tickWidth":2,"tickSize":5,"labelPadding":3}},
"xOffset":{"field":"g","type":"nominal","sort":["iDC-2D","iDC-3D"],"scale":{"paddingInner":0.28,"paddingOuter":0.14}},
"y":{"field":"v","type":"quantitative","scale":{"domain":[0,120],"nice":false},"axis":{"title":"% of cells","titleFontSize":14.5,"titleFontWeight":"bold","titleColor":"#111","titlePadding":5,"values":[20,40,60,80,100,120],"labelFontSize":12,"labelFontWeight":"bold","labelColor":"#111","labelPadding":2,"tickSize":6,"tickWidth":2,"tickColor":"#111","domainColor":"#111","domainWidth":2,"grid":false}},
"fill":{"field":"g","type":"nominal","sort":["iDC-2D","iDC-3D"],"scale":{"range":["#f0f0f0","#505050"]},"legend":{"orient":"none","legendX":204,"legendY":34,"title":null,"symbolType":"M-1,-0.6H1V0.6H-1Z","symbolSize":400,"symbolStrokeColor":"#111","symbolStrokeWidth":2,"symbolOpacity":1,"labelFontSize":14,"labelColor":"#111","labelOffset":9,"rowPadding":-3}}}},
{"data":{"name":"bb"},"mark":{"type":"rule","color":"#111","strokeWidth":2},
"encoding":{"x":{"field":"m","type":"nominal","sort":["CD11b","MHC-II","CD40","CD80","CD86","CD83"]},"xOffset":{"field":"g","type":"nominal","sort":["iDC-2D","iDC-3D"]},"y":{"field":"v","type":"quantitative"},"y2":{"field":"e"}}},
{"data":{"name":"bb"},"mark":{"type":"tick","color":"#111","thickness":2,"size":10,"orient":"horizontal"},
"encoding":{"x":{"field":"m","type":"nominal","sort":["CD11b","MHC-II","CD40","CD80","CD86","CD83"]},"xOffset":{"field":"g","type":"nominal","sort":["iDC-2D","iDC-3D"]},"y":{"field":"e","type":"quantitative"}}},
{"data":{"values":[{"m":"MHC-II","g":"iDC-2D","y":64.4,"k":1,"p":1},{"m":"MHC-II","g":"iDC-2D","y":66.8,"k":2,"p":1},{"m":"MHC-II","g":"iDC-3D","y":66.8,"k":3,"p":1},{"m":"MHC-II","g":"iDC-3D","y":64.4,"k":4,"p":1}]},
"mark":{"type":"line","color":"#555","strokeWidth":1},
"encoding":{"x":{"field":"m","type":"nominal","sort":["CD11b","MHC-II","CD40","CD80","CD86","CD83"]},"xOffset":{"field":"g","type":"nominal","sort":["iDC-2D","iDC-3D"]},"y":{"field":"y","type":"quantitative"},"order":{"field":"k","type":"quantitative"},"detail":{"field":"p","type":"nominal"}}},
{"data":{"values":[{"m":"MHC-II","y":72.5,"t":"p=0.002"}]},"mark":{"type":"text","fontSize":12,"color":"#333","baseline":"alphabetic"},
"encoding":{"x":{"field":"m","type":"nominal","sort":["CD11b","MHC-II","CD40","CD80","CD86","CD83"]},"y":{"field":"y","type":"quantitative"},"text":{"field":"t"}}},
{"data":{"values":[{"m":"CD40","t":"CD11c+ gated cells"}]},"mark":{"type":"text","fontSize":14,"color":"#111","baseline":"alphabetic"},
"encoding":{"x":{"field":"m","type":"nominal","sort":["CD11b","MHC-II","CD40","CD80","CD86","CD83"],"bandPosition":0.6},"y":{"datum":119,"type":"quantitative"},"text":{"field":"t"}}}
]
},
{
"width":293,"height":226,"view":{"stroke":null},
"title":{"text":"c","anchor":"start","frame":"bounds","fontSize":16,"fontWeight":"bold","color":"#111","dx":0,"offset":1},
"layer":[
{"data":{"name":"cc"},"mark":{"type":"bar","stroke":"#111","strokeWidth":2},
"encoding":{
"x":{"field":"m","type":"nominal","sort":["CD11b","MHC-II","CD40","CD80","CD86","CD83"],"scale":{"paddingInner":0.2727,"paddingOuter":0.1364},"axis":{"title":null,"labelAngle":-45,"labelFontSize":13.5,"labelFontWeight":"bold","labelColor":"#111","domainColor":"#111","domainWidth":2,"tickColor":"#111","tickWidth":2,"tickSize":5,"labelPadding":3}},
"xOffset":{"field":"g","type":"nominal","sort":["mDC-2D","mDC-3D"],"scale":{"paddingInner":0.28,"paddingOuter":0.14}},
"y":{"field":"v","type":"quantitative","scale":{"domain":[0,120],"nice":false},"axis":{"title":"% of cells","titleFontSize":14.5,"titleFontWeight":"bold","titleColor":"#111","titlePadding":5,"values":[20,40,60,80,100,120],"labelFontSize":12,"labelFontWeight":"bold","labelColor":"#111","labelPadding":2,"tickSize":6,"tickWidth":2,"tickColor":"#111","domainColor":"#111","domainWidth":2,"grid":false}},
"fill":{"field":"g","type":"nominal","sort":["mDC-2D","mDC-3D"],"scale":{"range":["#f0f0f0","#505050"]},"legend":{"orient":"none","legendX":204,"legendY":15,"title":null,"symbolType":"M-1,-0.6H1V0.6H-1Z","symbolSize":400,"symbolStrokeColor":"#111","symbolStrokeWidth":2,"symbolOpacity":1,"labelFontSize":14,"labelColor":"#111","labelOffset":9,"rowPadding":2}}}},
{"data":{"name":"cc"},"mark":{"type":"rule","color":"#111","strokeWidth":2},
"encoding":{"x":{"field":"m","type":"nominal","sort":["CD11b","MHC-II","CD40","CD80","CD86","CD83"]},"xOffset":{"field":"g","type":"nominal","sort":["mDC-2D","mDC-3D"]},"y":{"field":"v","type":"quantitative"},"y2":{"field":"e"}}},
{"data":{"name":"cc"},"mark":{"type":"tick","color":"#111","thickness":2,"size":10,"orient":"horizontal"},
"encoding":{"x":{"field":"m","type":"nominal","sort":["CD11b","MHC-II","CD40","CD80","CD86","CD83"]},"xOffset":{"field":"g","type":"nominal","sort":["mDC-2D","mDC-3D"]},"y":{"field":"e","type":"quantitative"}}},
{"data":{"values":[{"m":"MHC-II","g":"mDC-2D","y":90.4,"k":1,"p":1},{"m":"MHC-II","g":"mDC-2D","y":93,"k":2,"p":1},{"m":"MHC-II","g":"mDC-3D","y":93,"k":3,"p":1},{"m":"MHC-II","g":"mDC-3D","y":90.4,"k":4,"p":1},
{"m":"CD40","g":"mDC-2D","y":100.7,"k":1,"p":2},{"m":"CD40","g":"mDC-2D","y":103.3,"k":2,"p":2},{"m":"CD40","g":"mDC-3D","y":103.3,"k":3,"p":2},{"m":"CD40","g":"mDC-3D","y":100.7,"k":4,"p":2},
{"m":"CD83","g":"mDC-2D","y":66.5,"k":1,"p":3},{"m":"CD83","g":"mDC-2D","y":69.6,"k":2,"p":3},{"m":"CD83","g":"mDC-3D","y":69.6,"k":3,"p":3},{"m":"CD83","g":"mDC-3D","y":66.5,"k":4,"p":3}]},
"mark":{"type":"line","color":"#555","strokeWidth":1},
"encoding":{"x":{"field":"m","type":"nominal","sort":["CD11b","MHC-II","CD40","CD80","CD86","CD83"]},"xOffset":{"field":"g","type":"nominal","sort":["mDC-2D","mDC-3D"]},"y":{"field":"y","type":"quantitative"},"order":{"field":"k","type":"quantitative"},"detail":{"field":"p","type":"nominal"}}},
{"data":{"values":[{"m":"MHC-II","y":96.2,"t":"p=0.019"},{"m":"CD40","y":107.6,"t":"p=0.003"},{"m":"CD83","y":74.1,"t":"p=0.0002"}]},"mark":{"type":"text","fontSize":12,"color":"#333","baseline":"alphabetic"},
"encoding":{"x":{"field":"m","type":"nominal","sort":["CD11b","MHC-II","CD40","CD80","CD86","CD83"]},"y":{"field":"y","type":"quantitative"},"text":{"field":"t"}}},
{"data":{"values":[{"m":"CD40","t":"CD11c+ gated cells"}]},"mark":{"type":"text","fontSize":14.5,"color":"#111","baseline":"alphabetic"},
"encoding":{"x":{"field":"m","type":"nominal","sort":["CD11b","MHC-II","CD40","CD80","CD86","CD83"],"bandPosition":1.06},"y":{"datum":119,"type":"quantitative"},"text":{"field":"t"}}}
]
}
],
"spacing":31,
"resolve":{"scale":{"xOffset":"independent","fill":"independent"},"legend":{"fill":"independent"}}
}
]
}
